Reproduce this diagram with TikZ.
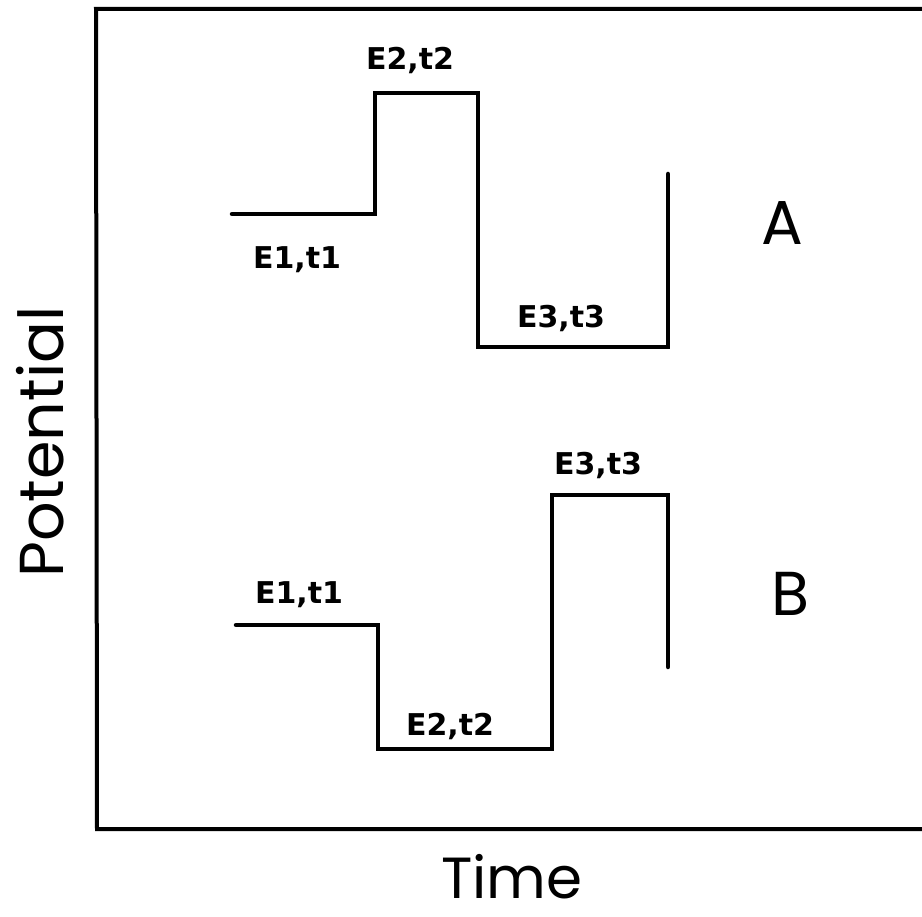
\documentclass[tikz,border=0pt]{standalone}
\usepackage{fontspec}
\setmainfont{DejaVu Sans}
\newfontfamily\geo{Poppins}
\begin{document}
\begin{tikzpicture}[x=1pt,y=-1pt,
  frameline/.style={line width=4pt,line cap=round,line join=miter},
  stepline/.style={line width=4.5pt,line cap=round,line join=miter},
  elabel/.style={anchor=base,inner sep=0pt,font=\bfseries\fontsize{30}{36}\selectfont},
  biglabel/.style={anchor=base,inner sep=0pt,font=\geo\fontsize{62}{70}\selectfont},
  axlabel/.style={anchor=base,inner sep=0pt,font=\geo\fontsize{58}{64}\selectfont}]
\useasboundingbox (0,0) rectangle (922,917);
% frame
\draw[frameline] (930,9) -- (96,9) -- (97,829) -- (930,829);
% A waveform
\draw[stepline] (232,214) -- (375,214) -- (375,93) -- (478,93) -- (478,347) -- (668,347) -- (668,174);
% B waveform
\draw[stepline] (236,625) -- (378,625) -- (378,749) -- (552,749) -- (552,495) -- (668,495) -- (668,667);
% labels A
\node[elabel] (a2) at (410,70) {E2,t2};
\node[elabel] (a1) at (297,269) {E1,t1};
\node[elabel] (a3) at (561,328) {E3,t3};
% labels B
\node[elabel] (b1) at (299,603) {E1,t1};
\node[elabel] (b2) at (450,735) {E2,t2};
\node[elabel] (b3) at (598,475) {E3,t3};
% series labels
\node[biglabel] (la) at (782,245) {A};
\node[biglabel] (lb) at (790,615) {B};
% axis labels
\node[axlabel] (time) at (512,898) {Time};
\node[axlabel,rotate=90,font=\geo\fontsize{62}{70}\selectfont] (pot) at (63,442) {Potential};
\end{tikzpicture}
\end{document}
